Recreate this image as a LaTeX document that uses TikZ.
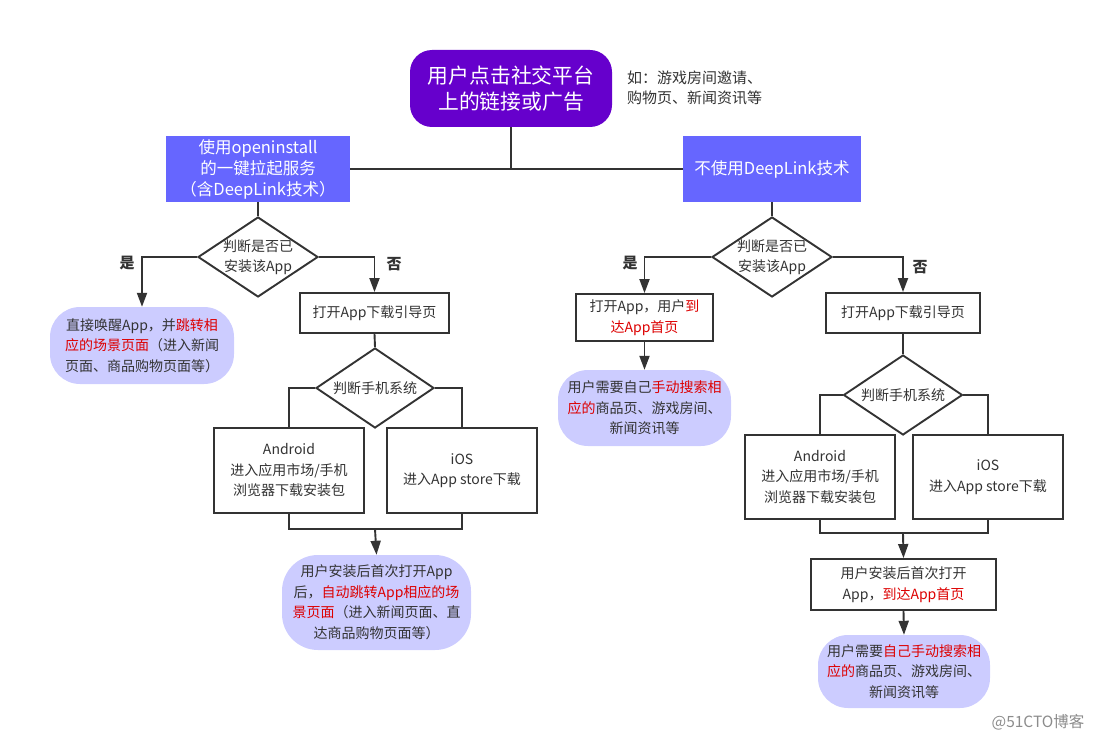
\documentclass[tikz,border=0pt]{standalone}
\usepackage{fontspec}
\setmainfont{Noto Sans CJK SC}
\usetikzlibrary{arrows.meta,shapes.geometric}
\definecolor{linec}{HTML}{333333}
\definecolor{purp}{HTML}{6600CC}
\definecolor{blu}{HTML}{6666FF}
\definecolor{lav}{HTML}{CCCCFF}
\definecolor{redt}{HTML}{DD0000}
\newcommand{\rd}[1]{\textcolor{redt}{#1}}
\tikzset{
  conn/.style={draw=linec, line width=1.9pt},
  arr/.style={conn, -{Triangle[length=14pt,width=10pt]}},
  txt/.style={font=\fontsize{14}{20.5}\selectfont, text=linec, align=center, inner sep=0pt},
  wbox/.style={txt, draw=linec, line width=1.9pt, fill=white, rectangle},
  lavbox/.style={txt, fill=lav, rectangle},
  bluebox/.style={fill=blu, text=white, align=center, inner sep=0pt, font=\fontsize{16.5}{21}\selectfont},
  purpbox/.style={fill=purp, text=white, align=center, inner sep=0pt, rounded corners=22pt, font=\fontsize{20.8}{26.5}\selectfont},
  dia/.style={diamond, draw=linec, line width=1.9pt, fill=white, inner sep=0pt},
  yn/.style={font=\fontsize{15}{18}\selectfont\bfseries, text=linec, inner sep=0pt},
}
\begin{document}
\begin{tikzpicture}[x=1pt,y=-1pt]
\useasboundingbox (0,0) rectangle (1095,741);
% top
\node[purpbox, minimum width=202pt, minimum height=77pt] (top) at (511,88.5) {用户点击社交平台\\上的链接或广告};
\node[anchor=west, align=left, inner sep=0pt, text=linec, font=\fontsize{15}{20}\selectfont] (note) at (627,88) {如：游戏房间邀请、\\购物页、新闻资讯等};
\node[bluebox, minimum width=184pt, minimum height=66pt] (lb) at (258,169) {使用openinstall\\的一键拉起服务\\（含DeepLink技术）};
\node[bluebox, minimum width=178pt, minimum height=66pt] (rb) at (772,169) {不使用DeepLink技术};
\draw[conn] (lb.east) -- (rb.west);
\draw[conn] (top.south) -- (top.south |- lb.east);

% left branch
\node[dia, minimum width=120pt, minimum height=80pt] (d1) at (258,257) {};
\node[txt] (d1t) at (d1) {判断是否已\\安装该App};
\node[yn] (y1) at (127,263) {是};
\node[yn] (n1) at (394,264) {否};
\node[lavbox, rounded corners=30pt, minimum width=184pt, minimum height=77pt] (yes1) at (142,345.5) {直接唤醒App，并\rd{跳转相}\\\rd{应的场景页面}（进入新闻\\页面、商品购物页面等）};
\node[wbox, minimum width=149pt, minimum height=40pt] (dl1) at (374.5,313) {打开App下载引导页};
\node[dia, minimum width=118pt, minimum height=80pt] (d2) at (375,388) {};
\node[txt] (d2t) at (d2) {判断手机系统};
\node[wbox, minimum width=150pt, minimum height=85pt] (and1) at (289,470.5) {Android\\进入应用市场/手机\\浏览器下载安装包};
\node[wbox, minimum width=150pt, minimum height=85pt] (ios1) at (462,470.5) {iOS\\进入App store下载};
\coordinate (m1) at (375,529);
\node[lavbox, rounded corners=36pt, minimum width=189pt, minimum height=95pt] (fin1) at (376.5,602.5) {用户安装后首次打开App\\后，\rd{自动跳转App相应的场}\\\rd{景页面}（进入新闻页面、直\\达商品购物页面等）};

\draw[conn] (lb.south) -- (d1.north);
\draw[arr] (d1.west) -| (yes1.north);
\draw[arr] (d1.east) -| (dl1.north);
\draw[conn] (dl1.south) -- (d2.north);
\draw[conn] (d2.west) -| (and1.north);
\draw[conn] (d2.east) -| (ios1.north);
\draw[conn] (and1.south) |- (m1) -| (ios1.south);
\draw[arr] (m1) -- (fin1.north);

% right branch
\node[dia, minimum width=120pt, minimum height=80pt] (d3) at (772,257) {};
\node[txt] (d3t) at (d3) {判断是否已\\安装该App};
\node[yn] (y2) at (630,263) {是};
\node[yn] (n2) at (920,267) {否};
\node[wbox, minimum width=137pt, minimum height=47pt] (open2) at (644.5,317.5) {打开App，用户\rd{到}\\\rd{达App首页}};
\node[lavbox, rounded corners=30pt, minimum width=173pt, minimum height=76pt] (lav2) at (644.5,408) {用户需要自己\rd{手动搜索相}\\\rd{应的}商品页、游戏房间、\\新闻资讯等};
\node[wbox, minimum width=154pt, minimum height=40pt] (dl2) at (903,313) {打开App下载引导页};
\node[dia, minimum width=119pt, minimum height=80pt] (d4) at (903,395) {};
\node[txt] (d4t) at (d4) {判断手机系统};
\node[wbox, minimum width=150pt, minimum height=84pt] (and2) at (820,477) {Android\\进入应用市场/手机\\浏览器下载安装包};
\node[wbox, minimum width=150pt, minimum height=84pt] (ios2) at (988,477) {iOS\\进入App store下载};
\coordinate (m2) at (903,533);
\node[wbox, minimum width=185pt, minimum height=51pt] (fin2) at (903.5,584.5) {用户安装后首次打开\\App，\rd{到达App首页}};
\node[lavbox, rounded corners=30pt, minimum width=172pt, minimum height=73pt] (lav3) at (904,671.5) {用户需要\rd{自己手动搜索相}\\\rd{应的}商品页、游戏房间、\\新闻资讯等};

\draw[conn] (rb.south) -- (d3.north);
\draw[arr] (d3.west) -| (open2.north);
\draw[arr] (open2.south) -- (lav2.north);
\draw[arr] (d3.east) -| (dl2.north);
\draw[conn] (dl2.south) -- (d4.north);
\draw[conn] (d4.west) -| (and2.north);
\draw[conn] (d4.east) -| (ios2.north);
\draw[conn] (and2.south) |- (m2) -| (ios2.south);
\draw[arr] (m2) -- (fin2.north);
\draw[arr] (fin2.south) -- (lav3.north);

% watermark
\node[inner sep=0pt, text=black!45, font=\fontsize{15.5}{17}\selectfont] (wm) at (1038,722) {@51CTO博客};
\end{tikzpicture}
\end{document}
